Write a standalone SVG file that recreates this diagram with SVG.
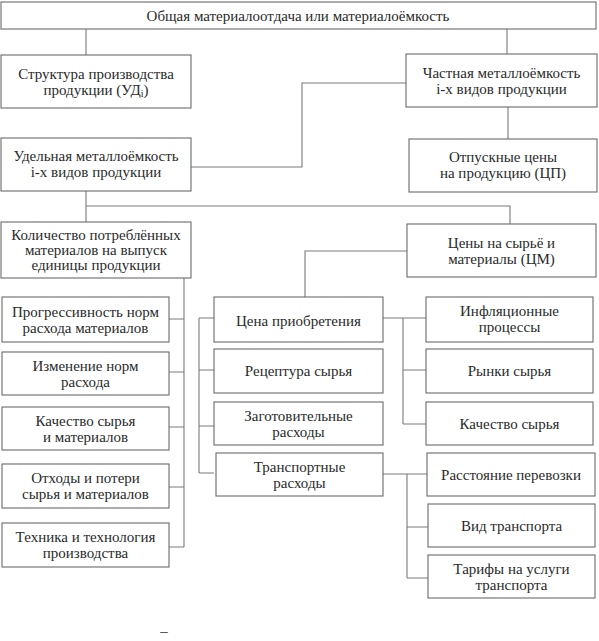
<svg xmlns="http://www.w3.org/2000/svg" width="599" height="641" viewBox="0 0 599 641">
<style>
rect{fill:#fff;stroke:#6a6a6a;stroke-width:1.1}
text{font-family:'Liberation Serif','Tinos','Times New Roman','Noto Serif','DejaVu Serif',serif;font-size:15px;fill:#2a2a2a;text-anchor:middle}
.c path{fill:none;stroke:#7a7a7a;stroke-width:1.1}
.sub{font-size:10px}
</style>
<rect x="0" y="0" width="599" height="641" style="fill:#fff;stroke:none"/>
<g class="c" id="connectors">
<path d="M86 29V55"/>
<path d="M507 29V54"/>
<path d="M191 167H302V83H406"/>
<path d="M508 107V139"/>
<path d="M86 191V222"/>
<path d="M86 206H510V224"/>
<path d="M407 251H305V297"/>
<path d="M184 278V547M169 319H184M169 372H184M169 427H184M169 487H184M169 547H184"/>
<path d="M199 318V473M199 318H214M199 370H214M199 426H214M199 473H214"/>
<path d="M383 318H426M403 318V424M403 370H426M403 424H426"/>
<path d="M383 474H427M407 474V578M407 527H428M407 578H428"/>
</g>
<g id="labels" font-family="'Liberation Serif', 'Times New Roman', 'DejaVu Serif', serif">
<g id="n-top"><rect x="1" y="2" width="595" height="27"/><text x="298" y="21">Общая материалоотдача или материалоёмкость</text></g>
<g id="n-struct"><rect x="1" y="55" width="190" height="53"/><text x="96" y="79">Структура производства</text><text x="96" y="95">продукции (УД<tspan class="sub" dy="2">i</tspan><tspan dy="-2">)</tspan></text></g>
<g id="n-chast"><rect x="406" y="54" width="191" height="53"/><text x="501.5" y="78">Частная металлоёмкость</text><text x="501.5" y="94">i-x видов продукции</text></g>
<g id="n-udel"><rect x="1" y="138" width="190" height="53"/><text x="96" y="161">Удельная металлоёмкость</text><text x="96" y="177">i-x видов продукции</text></g>
<g id="n-otpusk"><rect x="409" y="139" width="188" height="53"/><text x="503" y="162">Отпускные цены</text><text x="503" y="178">на продукцию (ЦП)</text></g>
<g id="n-kolvo"><rect x="1" y="222" width="190" height="56"/><text x="96" y="240">Количество потреблённых</text><text x="96" y="255">материалов на выпуск</text><text x="96" y="270">единицы продукции</text></g>
<g id="n-ceny"><rect x="407" y="224" width="189" height="53"/><text x="501.5" y="248">Цены на сырьё и</text><text x="501.5" y="264">материалы (ЦМ)</text></g>
<g id="n-progr"><rect x="2" y="297" width="167" height="45"/><text x="85.5" y="317">Прогрессивность норм</text><text x="85.5" y="333">расхода материалов</text></g>
<g id="n-izmen"><rect x="2" y="352" width="167" height="43"/><text x="85.5" y="371">Изменение норм</text><text x="85.5" y="387">расхода</text></g>
<g id="n-kach"><rect x="2" y="407" width="167" height="43"/><text x="85.5" y="426">Качество сырья</text><text x="85.5" y="442">и материалов</text></g>
<g id="n-othod"><rect x="2" y="464" width="167" height="44"/><text x="85.5" y="483">Отходы и потери</text><text x="85.5" y="499">сырья и материалов</text></g>
<g id="n-tehn"><rect x="2" y="523" width="167" height="44"/><text x="85.5" y="542">Техника и технология</text><text x="85.5" y="558">производства</text></g>
<g id="n-cena"><rect x="214" y="297" width="169" height="45"/><text x="298.5" y="326">Цена приобретения</text></g>
<g id="n-recept"><rect x="214" y="349" width="169" height="44"/><text x="298.5" y="376">Рецептура сырья</text></g>
<g id="n-zagot"><rect x="214" y="402" width="169" height="43"/><text x="298.5" y="421">Заготовительные</text><text x="298.5" y="437">расходы</text></g>
<g id="n-transp"><rect x="216" y="453" width="167" height="43"/><text x="299.5" y="472">Транспортные</text><text x="299.5" y="488">расходы</text></g>
<g id="n-infl"><rect x="426" y="297" width="167" height="45"/><text x="509.5" y="316">Инфляционные</text><text x="509.5" y="332">процессы</text></g>
<g id="n-rynki"><rect x="426" y="349" width="167" height="44"/><text x="509.5" y="376">Рынки сырья</text></g>
<g id="n-kach2"><rect x="426" y="402" width="167" height="43"/><text x="509.5" y="429">Качество сырья</text></g>
<g id="n-rasst"><rect x="427" y="453" width="168" height="43"/><text x="511" y="480">Расстояние перевозки</text></g>
<g id="n-vid"><rect x="428" y="504" width="167" height="43"/><text x="511.5" y="531">Вид транспорта</text></g>
<g id="n-tarif"><rect x="428" y="555" width="167" height="43"/><text x="511.5" y="574">Тарифы на услуги</text><text x="511.5" y="590">транспорта</text></g>
<text x="164" y="636">–</text>
</g>
</svg>
